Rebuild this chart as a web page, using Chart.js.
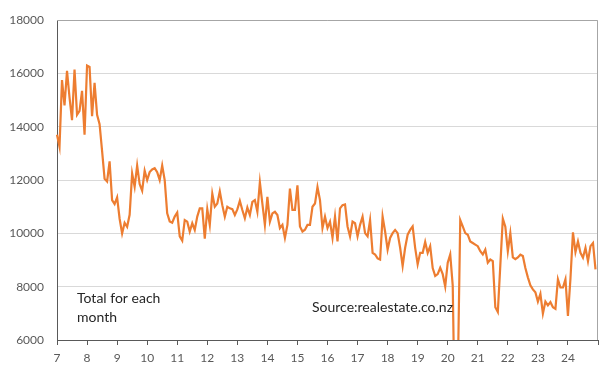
<!DOCTYPE html>
<html>
<head>
<meta charset="utf-8">
<script src="https://cdn.jsdelivr.net/npm/chart.js@4.4.1/dist/chart.umd.min.js"></script>
<style>
  body { margin: 0; background: #fff; }
  #wrap { width: 604px; height: 365px; }
</style>
</head>
<body>
<div id="wrap"><canvas id="listingsChart" width="604" height="365"></canvas></div>
<script>
// monthly totals, Jan 2007 .. Dec 2024 (one row per year)
const monthlyTotals = [
  13700, 13250, 15750, 14800, 16100, 15100, 14250, 16150, 14450, 14600, 15350, 13700, // 2007
  16300, 16250, 14400, 15650, 14450, 14100, 13100, 12050, 11950, 12700, 11250, 11100, // 2008
  11350, 10550, 10000, 10400, 10250, 10700, 12250, 11750, 12550, 11850, 11600, 12350, // 2009
  12000, 12300, 12400, 12450, 12300, 12000, 12550, 12000, 10750, 10450, 10400, 10630, // 2010
  10780, 9890, 9730, 10500, 10440, 10070, 10380, 10130, 10630, 10940, 10940, 9800,    // 2011
  10910, 10320, 11490, 11000, 11120, 11580, 11060, 10630, 11000, 10940, 10910, 10690, // 2012
  10900, 11220, 10880, 10570, 10970, 10690, 11180, 11250, 10810, 11920, 11120, 10320, // 2013
  11370, 10440, 10750, 10810, 10690, 10200, 10320, 9830, 10320, 11680, 10880, 10880,  // 2014
  11800, 10260, 10070, 10140, 10320, 10320, 11000, 11120, 11740, 11250, 10200, 10630, // 2015
  10200, 10440, 9830, 10630, 9700, 10940, 11060, 11090, 10260, 9890, 10440, 10380,    // 2016
  9890, 10320, 10630, 10010, 9890, 10500, 9270, 9210, 9060, 9020, 10630, 10070,       // 2017
  9390, 9830, 10010, 10130, 10010, 9460, 8780, 9460, 9950, 10130, 10260, 9460,        // 2018
  8840, 9270, 9270, 9680, 9270, 9520, 8700, 8400, 8470, 8710, 8470, 8010,            // 2019
  8900, 9210, 8040, 2000, 4500, 10500, 10260, 10010, 9950, 9700, 9640, 9580,          // 2020
  9520, 9330, 9210, 9390, 8900, 9020, 8960, 7230, 7050, 8800, 10550, 10250,           // 2021
  9330, 10010, 9100, 9030, 9100, 9200, 9150, 8700, 8350, 8050, 7900, 7790,            // 2022
  7440, 7730, 6990, 7440, 7300, 7420, 7230, 7170, 8280, 7970, 7970, 8280,             // 2023
  6900, 8300, 10040, 9300, 9700, 9270, 9090, 9460, 8960, 9520, 9640, 8650             // 2024
];
const startYear = 2007;
const yearLabels = ['7', '8', '9', '10', '11', '12', '13', '14', '15', '16', '17', '18', '19', '20', '21', '22', '23', '24'];
const yTicks = [6000, 8000, 10000, 12000, 14000, 16000, 18000];
const noteLeft = ['Total for each', 'month'];
const noteRight = 'Source:realestate.co.nz';

// one category per month, plus Jan 2025 so the axis ends on a year tick
const months = [];
for (let i = 0; i <= monthlyTotals.length; i++) {
  const y = startYear + Math.floor(i / 12);
  const m = (i % 12) + 1;
  months.push(y + '-' + (m < 10 ? '0' + m : m));
}
const values = monthlyTotals.concat([null]);

const frame = {
  id: 'frame',
  beforeDatasetsDraw(chart) {
    const { ctx, chartArea: a } = chart;
    ctx.save();
    ctx.strokeStyle = '#a6a6a6';
    ctx.lineWidth = 1;
    ctx.beginPath();
    ctx.moveTo(a.left, Math.round(a.top) + 0.5);
    ctx.lineTo(Math.round(a.right) - 0.5, Math.round(a.top) + 0.5);
    ctx.lineTo(Math.round(a.right) - 0.5, a.bottom);
    ctx.stroke();
    ctx.restore();
  },
  afterDraw(chart) {
    const ctx = chart.ctx;
    ctx.save();
    ctx.fillStyle = '#262626';
    ctx.font = '14px Lato';
    ctx.textBaseline = 'middle';
    ctx.textAlign = 'left';
    ctx.fillText(noteLeft[0], 77, 298);
    ctx.fillText(noteLeft[1], 77, 317);
    ctx.fillText(noteRight, 312, 307);
    ctx.restore();
  }
};

new Chart(document.getElementById('listingsChart'), {
  type: 'line',
  data: {
    labels: months,
    datasets: [{
      label: 'Total',
      data: values,
      borderColor: '#ED7D31',
      borderWidth: 2.2,
      pointRadius: 0,
      tension: 0,
      fill: false
    }]
  },
  options: {
    responsive: false,
    animation: false,
    layout: { padding: { top: 16, right: 3, left: 0, bottom: 0 } },
    plugins: { legend: { display: false }, tooltip: { enabled: false } },
    scales: {
      x: {
        type: 'category',
        offset: false,
        afterFit: (s) => { s.height = 25; },
        grid: {
          drawOnChartArea: false,
          drawTicks: true,
          tickLength: 5,
          color: (c) => (c.index % 12 === 0 ? '#595959' : 'rgba(0,0,0,0)')
        },
        border: { color: '#595959', width: 1 },
        ticks: {
          autoSkip: false,
          maxRotation: 0,
          padding: 6,
          color: '#595959',
          font: { family: 'Lato', size: 12 },
          callback: (v, i) => (i % 12 === 0 && yearLabels[i / 12] !== undefined ? yearLabels[i / 12] : '')
        }
      },
      y: {
        min: yTicks[0],
        max: yTicks[yTicks.length - 1],
        afterFit: (s) => { s.width = 57; },
        afterBuildTicks: (s) => { s.ticks = yTicks.map(v => ({ value: v })); },
        grid: { color: '#d9d9d9', drawTicks: false },
        border: { color: '#595959', width: 1 },
        ticks: {
          padding: 13,
          color: '#595959',
          font: { family: 'Lato', size: 12 },
          callback: (v) => String(v)
        }
      }
    }
  },
  plugins: [frame]
});
</script>
</body>
</html>
